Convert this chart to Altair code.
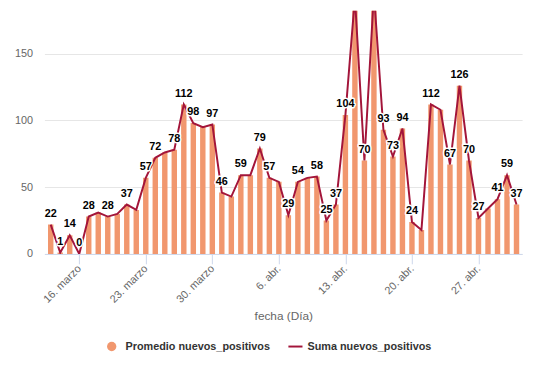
import altair as alt
import pandas as pd

# ---- data ----
start_date = "2020-03-13"
end_date = "2020-05-01"
values = [22, 1, 14, 0, 28, 31, 28, 30, 37, 33, 57, 72, 76, 78, 112, 98, 95, 97, 46,
          43, 59, 59, 79, 57, 54, 29, 54, 57, 58, 25, 37, 104, 192, 70, 195, 93, 73, 94, 24,
          18, 112, 108, 67, 126, 70, 27, 34, 41, 59, 37]
show_label = [1, 1, 1, 1, 1, 0, 1, 0, 1, 0, 1, 1, 0, 1, 1, 1, 0, 1, 1,
              0, 1, 0, 1, 1, 0, 1, 1, 0, 1, 1, 1, 1, 0, 1, 0, 1, 1, 1, 1,
              0, 1, 0, 1, 1, 1, 1, 0, 1, 1, 1]
tick_dates = ["2020-03-16", "2020-03-23", "2020-03-30", "2020-04-06",
              "2020-04-13", "2020-04-20", "2020-04-27"]
tick_labels = ["16. marzo", "23. marzo", "30. marzo", "6. abr.", "13. abr.", "20. abr.", "27. abr."]
legend_labels = ["Promedio nuevos_positivos", "Suma nuevos_positivos"]
y_ticks = [0, 50, 100, 150]

BAR_COLOR = "#f1976e"
LINE_COLOR = "#a3153a"
FONT = "Liberation Sans"

dates = pd.date_range(start_date, end_date, freq="D")
t0 = pd.Timestamp(start_date)
df = pd.DataFrame({
    "fecha": dates.strftime("%Y-%m-%d"),
    "dia": [(d - t0).days for d in dates],
    "valor": values,
    "etiqueta": [str(v) if s else "" for v, s in zip(values, show_label)],
})

tick_idx = [(pd.Timestamp(t) - t0).days for t in tick_dates]
expr = "''"
for i, lab in reversed(list(zip(tick_idx, tick_labels))):
    expr = f"datum.value == {i} ? '{lab}' : ({expr})"

x = alt.X("dia:Q",
          scale=alt.Scale(domain=[-0.66, 49.59], nice=False, zero=False, padding=0),
          axis=alt.Axis(values=tick_idx, labelExpr=expr, title="fecha (Día)",
                        labelAngle=-45, labelAlign="right", labelBaseline="middle",
                        labelPadding=3, labelFont=FONT, labelFontSize=11, labelColor="#666666",
                        tickSize=10, tickColor="#ccd6eb", domainColor="#ccd6eb",
                        grid=False, titleFont=FONT, titleFontSize=12, titleFontWeight="normal",
                        titleColor="#666666", titleY=63, titleBaseline="middle",
                        labelOverlap=False))
y = alt.Y("valor:Q",
          scale=alt.Scale(domain=[0, 182.2], nice=False),
          axis=alt.Axis(values=y_ticks, title=None, domain=False, ticks=False,
                        labelPadding=12, labelFont=FONT, labelFontSize=11,
                        labelColor="#666666", gridColor="#e6e6e6"))

base = alt.Chart(df).encode(x=x, y=y)

bars = base.mark_bar(size=5.5, color=BAR_COLOR, clip=True)
line = base.mark_line(color=LINE_COLOR, strokeWidth=2, clip=True)
lab_df = base.transform_filter("datum.etiqueta != ''")
halo = lab_df.mark_text(dy=-11, font=FONT, fontSize=11, fontWeight="bold",
                        stroke="white", strokeWidth=3, strokeJoin="round",
                        color="white").encode(text="etiqueta:N")
labels = lab_df.mark_text(dy=-11, font=FONT, fontSize=11, fontWeight="bold",
                          color="#000000").encode(text="etiqueta:N")

one = alt.Data(values=[{"k": 1}])
leg_dot = alt.Chart(one).mark_point(filled=True, shape="circle", size=90,
                                    color=BAR_COLOR, opacity=1).encode(
    x=alt.value(68.3), y=alt.value(341))
leg_txt1 = alt.Chart(one).mark_text(align="left", baseline="middle", font=FONT,
                                    fontSize=11, fontWeight="bold", color="#333333").encode(
    x=alt.value(82.3), y=alt.value(342), text=alt.value(legend_labels[0]))
leg_line = alt.Chart(one).mark_rule(color=LINE_COLOR, strokeWidth=2).encode(
    x=alt.value(247.7), x2=alt.value(262), y=alt.value(341))
leg_txt2 = alt.Chart(one).mark_text(align="left", baseline="middle", font=FONT,
                                    fontSize=11, fontWeight="bold", color="#333333").encode(
    x=alt.value(267), y=alt.value(342), text=alt.value(legend_labels[1]))

chart = alt.layer(bars, line, halo, labels, leg_dot, leg_txt1, leg_line, leg_txt2).properties(
    width=485, height=247,
    padding={"left": 37, "top": 0, "right": 8, "bottom": 109},
    autosize=alt.AutoSizeParams(type="none"),
).configure_view(stroke=None)

chart.save("out.html", embed_options={"renderer": "svg", "actions": False})
